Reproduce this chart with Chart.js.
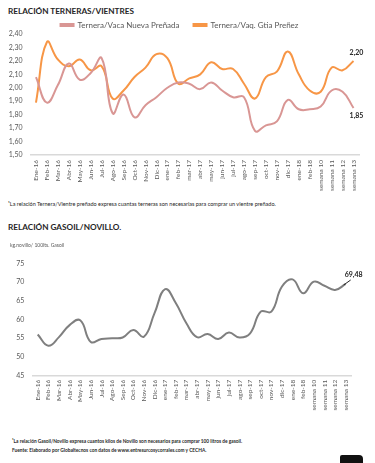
<!DOCTYPE html>
<html>
<head>
<meta charset="utf-8">
<script src="https://cdn.jsdelivr.net/npm/chart.js@4/dist/chart.umd.min.js"></script>
<style>
  body { margin: 0; background: #fff; font-family: Lato, sans-serif; color: #262626; }
  #page { position: relative; width: 375px; height: 463px; overflow: hidden; }
  .t { position: absolute; white-space: nowrap; }
  .titulo { font-weight: bold; font-size: 8.2px; }
  .nota { font-size: 5.5px; }
  canvas { position: absolute; left: 0; }
</style>
</head>
<body>
<div id="page">
  <div class="t titulo" style="left:8px; top:6px;">RELACIÓN TERNERAS/VIENTRES</div>
  <canvas id="chartTerneras" width="375" height="200" style="top:0;"></canvas>
  <div class="t nota" style="left:8px; top:201px;">¹La relación Ternera/Vientre preñado expresa cuantas terneras son necesarias para comprar un vientre preñado.</div>
  <div class="t titulo" style="left:8px; top:222px;">RELACIÓN GASOIL/NOVILLO.</div>
  <canvas id="chartGasoil" width="375" height="194" style="top:236px;"></canvas>
  <div class="t nota" style="left:12px; top:438px; font-weight:bold; font-size:4.8px;">¹La relación Gasoil/Novillo expresa cuantos kilos de Novillo son necesarios para comprar 100 litros de gasoil.</div>
  <div class="t nota" style="left:12px; top:447px; font-weight:bold; font-size:4.8px;">Fuente: Elaborado por Globaltecnos con datos de www.entresurcosycorrales.com y CECHA.</div>
  <div style="position:absolute; left:340px; top:455px; width:23px; height:8px; background:#111; border-radius:2px 4px 0 0;"></div>
</div>
<script>
// categorias (meses y semanas)
const categorias = ['Ene-16', 'Feb-16', 'Mar-16', 'Abr-16', 'May-16', 'Jun-16', 'Jul-16', 'Ago-16', 'Sep-16', 'Oct-16',
  'Nov-16', 'Dic-16', 'ene-17', 'feb-17', 'mar-17', 'abr-17', 'may-17', 'jun-17', 'jul-17', 'ago-17',
  'sep-17', 'oct-17', 'nov-17', 'dic-17', 'ene-18', 'feb-18', 'semana 10', 'semana 11', 'semana 12', 'semana 13'];

// relacion terneras / vientres
const vacaNuevaPrenada = [2.08, 1.89, 2.02, 2.18, 2.06, 2.11, 2.22, 1.81, 1.95, 1.78,
  1.87, 1.93, 2.00, 2.04, 2.03, 1.99, 2.04, 1.98, 1.93, 1.93,
  1.68, 1.72, 1.75, 1.91, 1.84, 1.84, 1.86, 1.98, 1.97, 1.85];
const vaqGtiaPrenez = [1.89, 2.34, 2.21, 2.16, 2.21, 2.13, 2.16, 1.92, 1.98, 2.08,
  2.15, 2.25, 2.22, 2.03, 2.07, 2.10, 2.19, 2.14, 2.14, 2.03,
  1.92, 2.08, 2.12, 2.27, 2.10, 1.98, 1.97, 2.15, 2.13, 2.20];

// relacion gasoil / novillo
const gasoilNovillo = [56.0, 53.0, 55.3, 58.5, 59.8, 54.0, 54.8, 55.0, 55.2, 57.2,
  55.4, 61.7, 68.1, 64.4, 59.0, 55.3, 56.1, 54.8, 56.5, 55.2,
  56.3, 62.1, 62.1, 68.8, 70.7, 67.0, 70.1, 69.0, 67.9, 69.48];

// etiquetas de los ejes Y
const ticksTerneras = { min: 1.5, max: 2.4, paso: 0.1 };
const ticksGasoil = { min: 45, max: 75, paso: 5 };

const gris = '#595959';
const fmt = (v, dec) => v.toFixed(dec).replace('.', ',');

// etiqueta en el ultimo punto de cada serie
const etiquetaFinal = {
  id: 'etiquetaFinal',
  afterDatasetsDraw(chart) {
    const ctx = chart.ctx;
    chart.data.datasets.forEach((ds, i) => {
      if (!ds.etiqueta) return;
      const pts = chart.getDatasetMeta(i).data;
      const p = pts[pts.length - 1];
      const v = ds.data[ds.data.length - 1];
      ctx.save();
      if (ds.etiqueta.linea) {
        ctx.strokeStyle = '#262626';
        ctx.lineWidth = 1;
        ctx.beginPath();
        ctx.moveTo(p.x - 2, p.y + 1);
        ctx.lineTo(p.x + 5, p.y - 4);
        ctx.stroke();
      }
      ctx.font = 'bold 7px Lato';
      ctx.fillStyle = '#262626';
      ctx.textAlign = 'center';
      ctx.textBaseline = 'middle';
      ctx.fillText(fmt(v, ds.etiqueta.dec), p.x + ds.etiqueta.dx, p.y + ds.etiqueta.dy);
      ctx.restore();
    });
  }
};

// leyenda mas baja que la de Chart.js por defecto
const leyendaCompacta = {
  id: 'leyendaCompacta',
  beforeLayout(chart) {
    const lg = chart.legend;
    if (lg && !lg._compacta) {
      const fit = lg.fit;
      lg.fit = function () { fit.call(this); this.height = 27; };
      lg._compacta = true;
    }
  }
};

function ejeX(alto, pad) {
  return {
    offset: true,
    grid: { display: false, drawTicks: false },
    border: { display: true, color: '#D9D9D9', width: 1.5 },
    ticks: { color: gris, font: { size: 6.5, family: 'Lato' }, minRotation: 90, maxRotation: 90, padding: pad, autoSkip: false },
    afterFit: s => { s.height = alto; }
  };
}

function ejeY(t, dec, ancho) {
  return {
    min: t.min, max: t.max,
    grid: { display: false, drawTicks: false },
    border: { display: false },
    ticks: { stepSize: t.paso, color: gris, font: { size: 7, family: 'Lato' }, padding: 8, callback: v => fmt(v, dec) },
    afterFit: s => { s.width = ancho; }
  };
}

new Chart(document.getElementById('chartTerneras'), {
  type: 'line',
  data: {
    labels: categorias,
    datasets: [{
      label: 'Ternera/Vaca Nueva Preñada',
      data: vacaNuevaPrenada,
      borderColor: '#D99694',
      backgroundColor: '#D99694',
      borderWidth: 2,
      tension: 0.45,
      pointRadius: 0,
      etiqueta: { dec: 2, dx: 3, dy: 7.5 }
    }, {
      label: 'Ternera/Vaq. Gtia Preñez',
      data: vaqGtiaPrenez,
      borderColor: '#F79646',
      backgroundColor: '#F79646',
      borderWidth: 2,
      tension: 0.45,
      pointRadius: 0,
      etiqueta: { dec: 2, dx: 3, dy: -8 }
    }]
  },
  options: {
    responsive: false,
    devicePixelRatio: 1,
    animation: false,
    layout: { padding: { top: 7, right: 16, left: 0, bottom: 0 } },
    plugins: {
      legend: {
        labels: { boxWidth: 13, boxHeight: 2, padding: 14, color: gris, font: { size: 8, family: 'Lato' } }
      },
      tooltip: { enabled: false }
    },
    scales: {
      x: ejeX(45, 5),
      y: ejeY(ticksTerneras, 2, 30.5)
    }
  },
  plugins: [etiquetaFinal, leyendaCompacta]
});

new Chart(document.getElementById('chartGasoil'), {
  type: 'line',
  data: {
    labels: categorias,
    datasets: [{
      label: 'Gasoil/Novillo',
      data: gasoilNovillo,
      borderColor: '#7F7F7F',
      borderWidth: 2,
      tension: 0.45,
      pointRadius: 0,
      etiqueta: { dec: 2, dx: 8, dy: -9, linea: true }
    }]
  },
  options: {
    responsive: false,
    devicePixelRatio: 1,
    animation: false,
    layout: { padding: { top: 0, right: 24, left: 10, bottom: 0 } },
    plugins: {
      legend: { display: false },
      title: {
        display: true,
        text: 'kg.novillo/ 100lts. Gasoil',
        align: 'start',
        color: gris,
        font: { size: 5, family: 'Lato', weight: 'normal' },
        padding: { top: 6.7, bottom: 14.6 }
      },
      tooltip: { enabled: false }
    },
    scales: {
      x: ejeX(54.3, 4),
      y: ejeY(ticksGasoil, 0, 22.4)
    }
  },
  plugins: [etiquetaFinal]
});
</script>
</body>
</html>
